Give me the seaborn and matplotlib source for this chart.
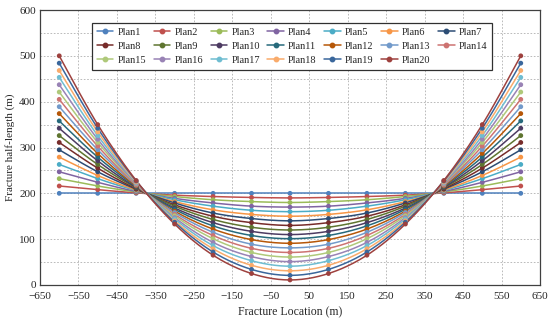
import numpy as np
import pandas as pd
import matplotlib
matplotlib.use("Agg")
import matplotlib.pyplot as plt
from matplotlib.lines import Line2D
import seaborn as sns

# ---------------- data ----------------
locations = [-600, -500, -400, -300, -200, -100, 0, 100, 200, 300, 400, 500, 600]
plans = [f"Plan{i}" for i in range(1, 21)]

# half-lengths at x = 0, 100, 200, 300, 400, 500, 600 (symmetric profile)
v0   = [200, 190, 180, 170, 160, 150, 140, 130, 120, 110, 101, 91, 81, 71, 61, 51, 41, 31, 21, 11]
v100 = [200, 191, 182, 172, 163, 154, 145, 136, 126, 117, 108, 99, 89, 80, 71, 62, 53, 43, 34, 25]
v200 = [200, 193, 186, 179, 172, 164, 157, 150, 143, 136, 129, 122, 115, 108, 101, 93, 86, 79, 72, 65]
v300 = [200, 196, 193, 189, 186, 182, 179, 175, 172, 168, 165, 161, 158, 154, 151, 147, 144, 140, 137, 133]
v400 = [200, 201, 203, 204, 206, 207, 209, 210, 212, 213, 215, 216, 218, 219, 221, 222, 224, 225, 227, 228]
v500 = [200, 208, 216, 224, 232, 239, 247, 255, 263, 271, 279, 287, 295, 303, 311, 318, 326, 334, 342, 350]
v600 = [200, 216, 232, 247, 263, 279, 295, 311, 326, 342, 358, 374, 389, 405, 421, 437, 453, 468, 484, 500]

colors = ["#4F81BD", "#C0504D", "#9BBB59", "#8064A2", "#4BACC6", "#F79646",
          "#2C4D75", "#772C2A", "#5F7530", "#4D3B62", "#276A7C", "#B65708",
          "#729ACA", "#CD7371", "#AFC97A", "#9983B5", "#6FBDD1", "#F9AB6B",
          "#3A679C", "#9E413E"]

cols = [v600, v500, v400, v300, v200, v100, v0, v100, v200, v300, v400, v500, v600]
values = {p: [c[i] for c in cols] for i, p in enumerate(plans)}

# ---------------- smoothing for rendering (Excel-like smooth line) ----------------
def smooth(xs, ys, n=20):
    xs = np.asarray(xs, float); ys = np.asarray(ys, float)
    px = np.concatenate([[xs[0]], xs, [xs[-1]]])
    py = np.concatenate([[ys[0]], ys, [ys[-1]]])
    ox, oy = [], []
    t = np.linspace(0, 1, n, endpoint=False)
    h00 = 2*t**3 - 3*t**2 + 1; h10 = t**3 - 2*t**2 + t
    h01 = -2*t**3 + 3*t**2; h11 = t**3 - t**2
    for i in range(1, len(px) - 2):
        mx0 = (px[i+1] - px[i-1]) / 2; my0 = (py[i+1] - py[i-1]) / 2
        mx1 = (px[i+2] - px[i]) / 2; my1 = (py[i+2] - py[i]) / 2
        ox.extend(h00*px[i] + h10*mx0 + h01*px[i+1] + h11*mx1)
        oy.extend(h00*py[i] + h10*my0 + h01*py[i+1] + h11*my1)
    ox.append(xs[-1]); oy.append(ys[-1])
    return ox, oy

rows_line, rows_pt = [], []
for p in plans:
    sx, sy = smooth(locations, values[p])
    for j, (a, b) in enumerate(zip(sx, sy)):
        rows_line.append({"plan": p, "idx": j, "x": a, "y": b})
    for a, b in zip(locations, values[p]):
        rows_pt.append({"plan": p, "x": a, "y": b})
df_line = pd.DataFrame(rows_line)
df_pt = pd.DataFrame(rows_pt)

# ---------------- plot ----------------
sns.set_style("white")
plt.rcParams["font.family"] = ["Liberation Serif", "DejaVu Serif"]

fig = plt.figure(figsize=(5.5, 3.28), dpi=100)
ax = fig.add_axes([40/550, 1-285/328, 500/550, 275/328])

palette = dict(zip(plans, colors))
sns.lineplot(data=df_line, x="x", y="y", hue="plan", units="plan", estimator=None,
             sort=False, palette=palette, linewidth=1.1, legend=False, ax=ax)
sns.scatterplot(data=df_pt, x="x", y="y", hue="plan", palette=palette, s=12,
                linewidth=0, legend=False, ax=ax, zorder=3)

ax.set_xlim(-650, 650)
ax.set_ylim(0, 600)
ax.set_xticks(np.arange(-650, 651, 100))
ax.set_yticks(np.arange(0, 601, 100))
ax.set_yticks(np.arange(50, 600, 100), minor=True)
ax.grid(True, which="both", color="#B0B0B0", linestyle=(0, (2, 2)), linewidth=0.6)
ax.set_axisbelow(True)
ax.tick_params(axis="both", which="both", length=0, labelsize=8)
ax.tick_params(axis="y", pad=3)
ax.tick_params(axis="x", pad=5)
ax.set_xticklabels([f"{v}".replace("-", "\u2212") for v in np.arange(-650, 651, 100)])
for s in ax.spines.values():
    s.set_color("#404040"); s.set_linewidth(0.9)

ax.set_xlabel("Fracture Location (m)", fontsize=8.5, labelpad=4)
ax.set_ylabel("Fracture half-length (m)", fontsize=8, labelpad=3)

# legend filled row by row (7 columns)
ncol = 7
order = []
for c in range(ncol):
    order.extend(range(c, len(plans), ncol))
handles = [Line2D([0], [0], color=colors[i], lw=1.1, marker="o", markersize=3.2) for i in order]
labels = [plans[i] for i in order]
leg = ax.legend(handles, labels, ncol=ncol, loc="upper left",
                bbox_to_anchor=(0.104, 0.764, 0.80, 0.189), mode="expand",
                fontsize=7.5, frameon=True, fancybox=False, edgecolor="#303030",
                framealpha=1, handlelength=1.6, handletextpad=0.4, labelspacing=0.45,
                borderpad=0.45, borderaxespad=0)
leg.get_frame().set_linewidth(0.9)

fig.savefig("out.png", dpi=100)
